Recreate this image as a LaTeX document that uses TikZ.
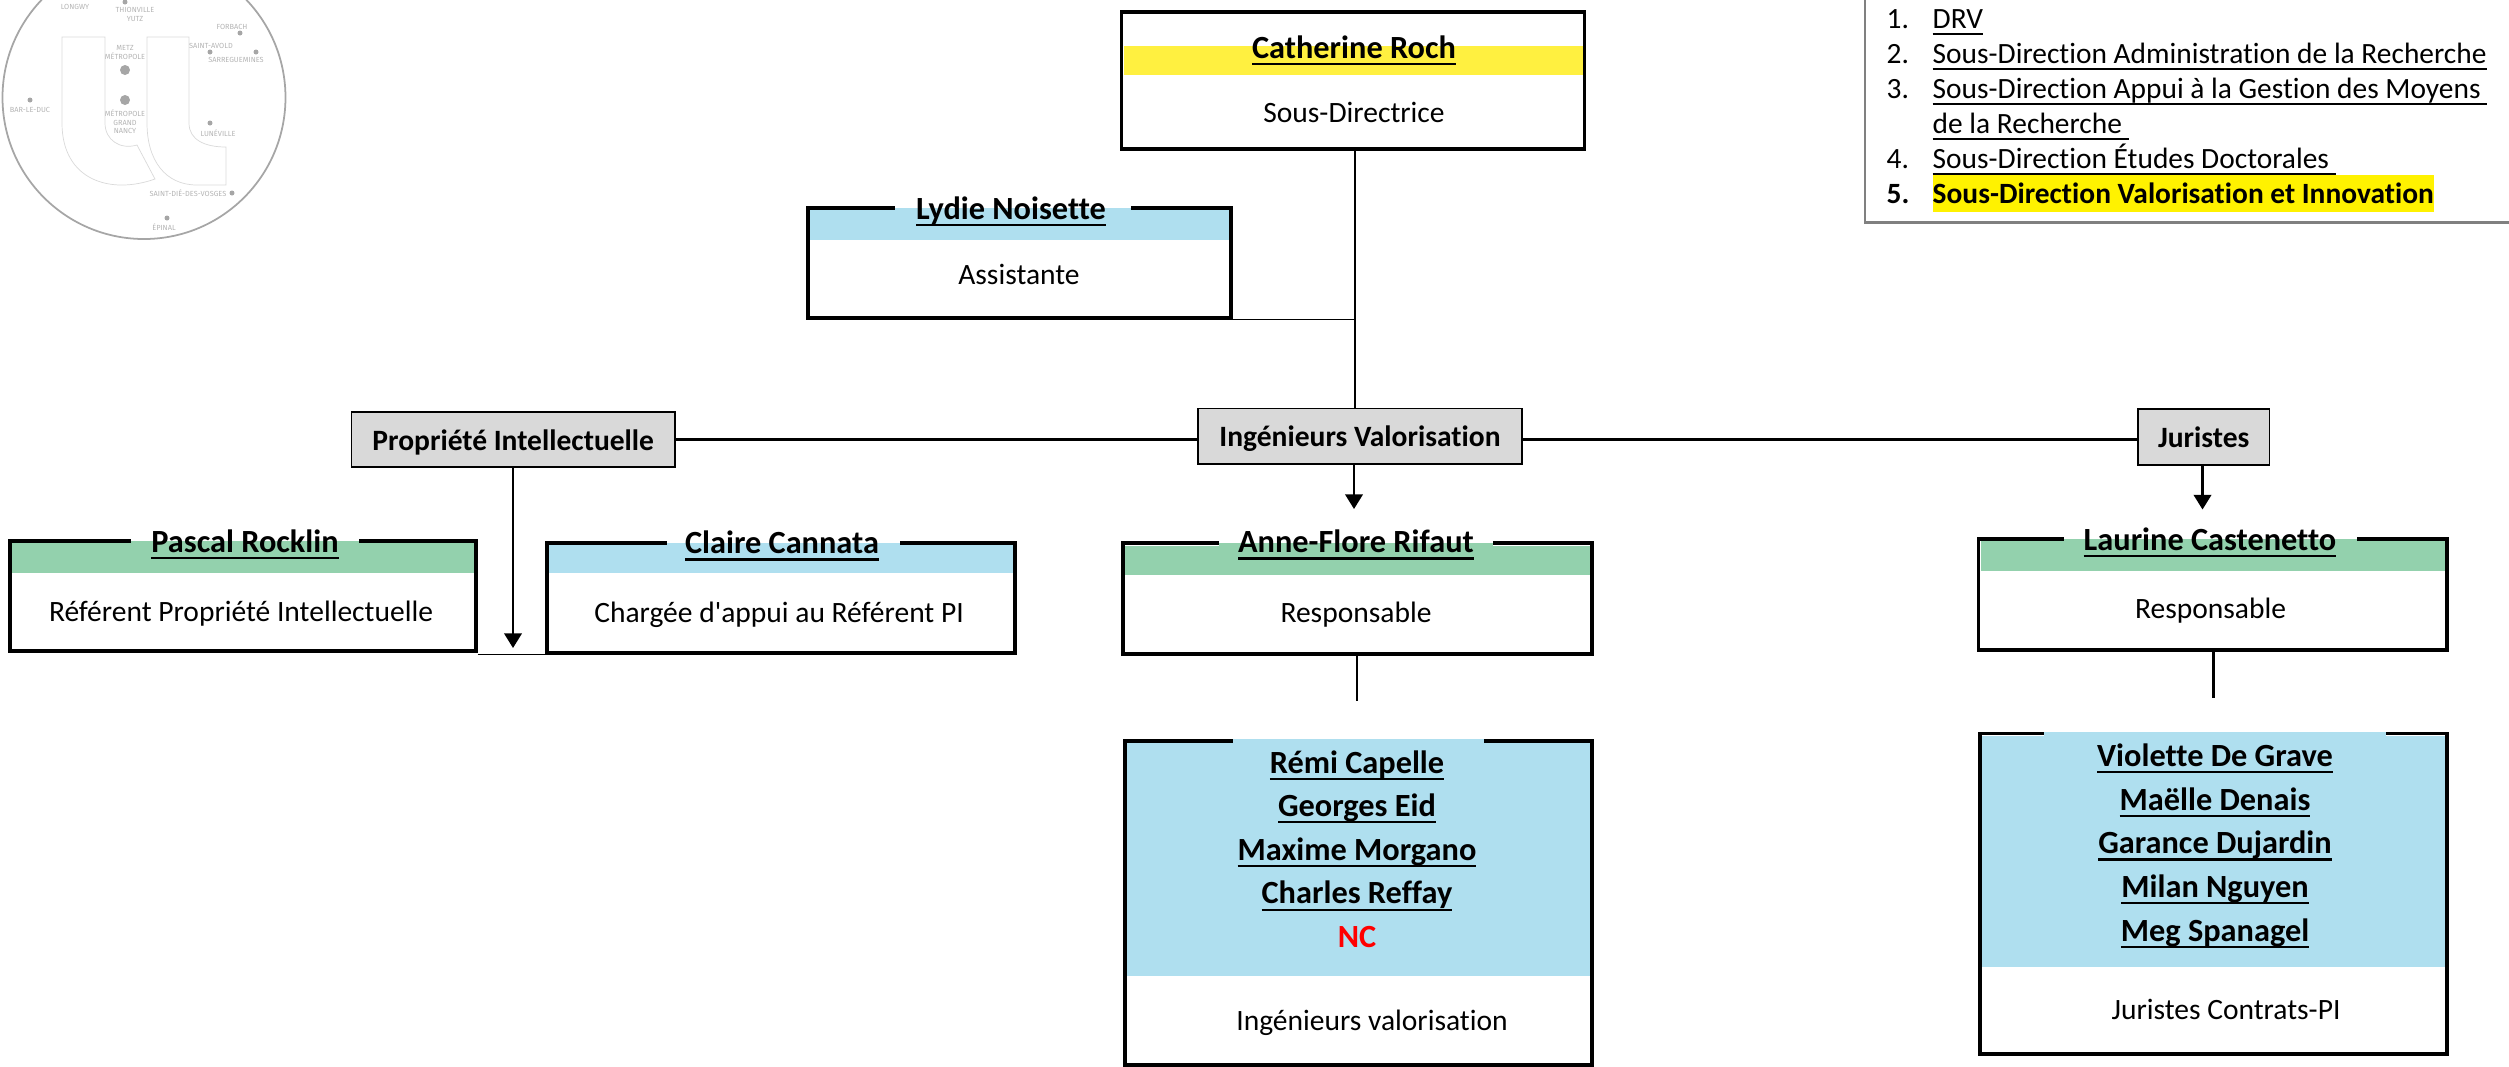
\documentclass[tikz,border=0pt]{standalone}
\usepackage{fontspec}
\setmainfont{Carlito}[Ligatures=NoCommon]
\newfontfamily\cityfont{Fira Sans}
\usepackage{tikz}
\usetikzlibrary{arrows.meta, positioning}
\definecolor{color1}{RGB}{255,240,64}
\definecolor{color2}{RGB}{175,223,239}
\definecolor{color3}{RGB}{147,209,173}
\definecolor{color4}{RGB}{217,217,217}
\definecolor{color5}{RGB}{166,166,166}
\definecolor{color6}{RGB}{180,180,180}
\newlength{\namewidth}
\newcommand{\nameline}[1]{\settowidth{\namewidth}{#1}\rlap{\rule[-1.9pt]{\namewidth}{0.6pt}}\rule[-1.9pt]{0pt}{6pt}\smash{#1}}

\begin{document}
\begin{tikzpicture}[x=0.1mm,y=-0.1mm,font=\fontsize{8.4pt}{12.4pt}\selectfont]

    \tikzset{
    % Boxes of the chart
    personbox/.style={rectangle, draw, line width=0.9pt, fill=white, inner sep=0pt},
    groupbox/.style={rectangle, draw, line width=0.45pt, fill=color4, inner sep=0pt, text height=6pt, text depth=0pt, font=\fontsize{8.4pt}{10pt}\selectfont\bfseries},
    persontext/.style={inner sep=0pt, font=\fontsize{9.2pt}{12.4pt}\selectfont\bfseries, align=center},
    roletext/.style={inner sep=0pt},
    bordergap/.style={white, line width=1.4pt},
    linkline/.style={line width=0.7pt},
    thinline/.style={line width=0.4pt},
    linkarrow/.style={linkline, -{Triangle[length=4.2pt,width=5pt]}},
    % Text of the list
    listitem/.style={anchor=base west, inner sep=0pt, font=\fontsize{8.37pt}{10pt}\selectfont},
    % Map in the corner
    citytext/.style={inner sep=0pt, text=color6, align=center, font=\fontsize{2.1pt}{2.46pt}\cityfont},
    cityspot/.style={circle, fill=color5, inner sep=0pt, minimum size=0.5mm},
    bigspot/.style={circle, fill=color5, inner sep=0pt, minimum size=1mm},
    maparea/.style={draw=color4, line width=0.2pt}
    }

    \clip (0,0) rectangle (2509,1066);

    % Map
    \draw[color5, line width=0.5pt] (144,97.5) circle (141.5);
    \draw[maparea] (62,37) -- (105,37) -- (105,123) .. controls (105,140) and (120,150) .. (137,145)
        -- (155,179) .. controls (110,195) and (62,180) .. (62,123) -- cycle;
    \draw[maparea] (147,37) -- (189,37) -- (189,123) .. controls (189,140) and (205,147) .. (226,147)
        -- (226,185) -- (197,185) .. controls (165,185) and (147,160) .. (147,123) -- cycle;
    \node (thionvillespot) at (125,2) [cityspot]{};
    \node (metzspot) at (125,70) [bigspot]{};
    \node (nancyspot) at (125,100) [bigspot]{};
    \node (forbachspot) at (240,33) [cityspot]{};
    \node (avoldspot) at (210,52) [cityspot]{};
    \node (sarrespot) at (256,52) [cityspot]{};
    \node (barspot) at (30,100) [cityspot]{};
    \node (lunevillespot) at (210,123) [cityspot]{};
    \node (diespot) at (232,193) [cityspot]{};
    \node (epinalspot) at (167,218) [cityspot]{};
    \node (longwy) at (75,7) [citytext]{LONGWY};
    \node (thionville) at (135,14.5) [citytext]{THIONVILLE\\YUTZ};
    \node (forbach) at (232,27) [citytext]{FORBACH};
    \node (avold) at (211,46) [citytext]{SAINT-AVOLD};
    \node (sarre) at (236,60) [citytext]{SARREGUEMINES};
    \node (metz) at (125,52.5) [citytext]{METZ\\MÉTROPOLE};
    \node (nancy) at (125,122) [citytext]{MÉTROPOLE\\GRAND\\NANCY};
    \node (bar) at (30,110) [citytext]{BAR-LE-DUC};
    \node (luneville) at (218,133) [citytext]{LUNÉVILLE};
    \node (die) at (188,193) [citytext]{SAINT-DIÉ-DES-VOSGES};
    \node (epinal) at (164,227) [citytext]{ÉPINAL};

    % List
    \draw[gray, line width=0.6pt] (1865,-5) rectangle (2520,222.5);
    \node (n1) at (1886,28) [listitem]{1.};
    \node (n2) at (1886,63) [listitem]{2.};
    \node (n3) at (1886,98) [listitem]{3.};
    \node (n4) at (1886,168) [listitem]{4.};
    \node (n5) at (1886,203) [listitem]{\bfseries 5.};
    \node (l1) at (1932,28) [listitem]{\nameline{DRV}};
    \node (l2) at (1932,63) [listitem]{\nameline{Sous-Direction Administration de la Recherche}};
    \node (l3) at (1932,98) [listitem]{\nameline{Sous-Direction Appui à la Gestion des Moyens\ }};
    \node (l3b) at (1932,133) [listitem]{\nameline{de la Recherche\ }};
    \node (l4) at (1932,168) [listitem]{\nameline{Sous-Direction Études Doctorales\ }};
    \node (l5) at (1932,203) [listitem, fill=yellow, text height=7.9pt, text depth=2.55pt]{\bfseries Sous-Direction Valorisation et Innovation};

    % People
    \node (catherine) at (1353,80.5) [personbox, minimum width=46.35mm, minimum height=13.7mm]{};
    \fill[color1] (1124,46) rectangle (1583,75);
    \node (catherinename) at (1354,54.5) [persontext]{\nameline{Catherine Roch}};
    \node (catherinerole) at (1354,112) [roletext]{Sous-Directrice};

    \node (lydie) at (1019.5,263) [personbox, minimum width=42.3mm, minimum height=11mm]{};
    \draw[bordergap] (895,208) -- (1131,208);
    \fill[color2] (810,210) rectangle (1229,240);
    \fill[color2] (895,208) rectangle (1131,211);
    \node (lydiename) at (1011,215.5) [persontext]{\nameline{Lydie Noisette}};
    \node (lydierole) at (1019,274) [roletext]{Assistante};

    \node (pascal) at (243,596) [personbox, minimum width=46.6mm, minimum height=11mm]{};
    \draw[bordergap] (131,541) -- (359,541);
    \fill[color3] (12,543) rectangle (474,573);
    \fill[color3] (131,541) rectangle (359,544);
    \node (pascalname) at (245,548.5) [persontext]{\nameline{Pascal Rocklin}};
    \node (pascalrole) at (241,613.5) [roletext]{Référent Propriété Intellectuelle};

    \node (claire) at (781,598) [personbox, minimum width=46.8mm, minimum height=11mm]{};
    \draw[bordergap] (667,543) -- (900,543);
    \fill[color2] (549,545) rectangle (1013,573);
    \fill[color2] (667,543) rectangle (900,546);
    \node (clairename) at (782,550) [persontext]{\nameline{Claire Cannata}};
    \node (clairerole) at (779,614.5) [roletext]{Chargée d\textquotesingle appui au Référent PI};

    \node (anne) at (1357.5,598.5) [personbox, minimum width=46.9mm, minimum height=11.1mm]{};
    \draw[bordergap] (1219,543.5) -- (1493,543.5);
    \fill[color3] (1125,545.5) rectangle (1590,575);
    \fill[color3] (1219,543) rectangle (1493,546);
    \node (annename) at (1356,549) [persontext]{\nameline{Anne-Flore Rifaut}};
    \node (annerole) at (1356,615) [roletext]{Responsable};

    \node (ingenieurteam) at (1358.5,903) [personbox, minimum width=46.7mm, minimum height=32.4mm]{};
    \draw[bordergap] (1233,741) -- (1484,741);
    \fill[color2] (1127,743) rectangle (1590,976);
    \fill[color2] (1233,739) rectangle (1484,744);
    \node (ingenieurnames) at (1357,856.5) [persontext]{\nameline{Rémi Capelle}\\\nameline{Georges Eid}\\\nameline{Maxime Morgano}\\\nameline{Charles Reffay}\\\textcolor{red}{NC}\rule[-1.9pt]{0pt}{0pt}};
    \node (ingenieurrole) at (1372,1023) [roletext]{Ingénieurs valorisation};

    \node (laurine) at (2212.75,594.5) [personbox, minimum width=46.85mm, minimum height=11.1mm]{};
    \draw[bordergap] (2064,539) -- (2357,539);
    \fill[color3] (1981,541) rectangle (2445,571);
    \fill[color3] (2064,539) rectangle (2357,542);
    \node (laurinename) at (2210,546.5) [persontext]{\nameline{Laurine Castenetto}};
    \node (laurinerole) at (2210.5,611) [roletext]{Responsable};

    \node (juristeteam) at (2213.5,893.75) [personbox, minimum width=46.7mm, minimum height=32.05mm]{};
    \draw[bordergap] (2044,733.5) -- (2386,733.5);
    \fill[color2] (1982,735.5) rectangle (2445,967);
    \fill[color2] (2044,732) rectangle (2386,736);
    \node (juristenames) at (2215,850) [persontext]{\nameline{Violette De Grave}\\\nameline{Maëlle Denais}\\\nameline{Garance Dujardin}\\\nameline{Milan Nguyen}\\\nameline{Meg Spanagel}};
    \node (juristerole) at (2226,1009.5) [roletext]{Juristes Contrats-PI};

    % Groups
    \node (propriete) at (513.25,439.5) [groupbox, minimum width=32.35mm, minimum height=5.5mm]{Propriété Intellectuelle};
    \node (ingenieurs) at (1360,436.25) [groupbox, minimum width=32.4mm, minimum height=5.55mm]{Ingénieurs Valorisation};
    \node (juristes) at (2203.7,437) [groupbox, minimum width=13.15mm, minimum height=5.6mm]{Juristes};

    % Free ends of the links
    \coordinate (spine) at (1355,300);
    \coordinate (pascalend) at (513,648);
    \coordinate (anneend) at (1354,509);
    \coordinate (laurineend) at (2202.5,509.5);
    \coordinate (ingenieurend) at (1357,701);
    \coordinate (juristeend) at (2213.5,698);

    % Links
    \draw[linkline] (catherine.south -| spine) -- (ingenieurs.north -| spine);
    \draw[thinline] (lydie.south east) -- (lydie.south east -| spine);
    \draw[linkline] (propriete.east) -- (propriete.east -| ingenieurs.west);
    \draw[linkline] (propriete.east -| ingenieurs.east) -- (propriete.east -| juristes.west);
    \draw[thinline] (claire.south west -| pascal.south east) -- (claire.south west);
    \draw[linkarrow] (propriete.south -| pascalend) -- (pascalend);
    \draw[linkarrow] (ingenieurs.south -| anneend) -- (anneend);
    \draw[linkarrow] (juristes.south -| laurineend) -- (laurineend);
    \draw[linkline] (anne.south -| ingenieurend) -- (ingenieurend);
    \draw[linkline] (laurine.south -| juristeend) -- (juristeend);

\end{tikzpicture}
\end{document}
